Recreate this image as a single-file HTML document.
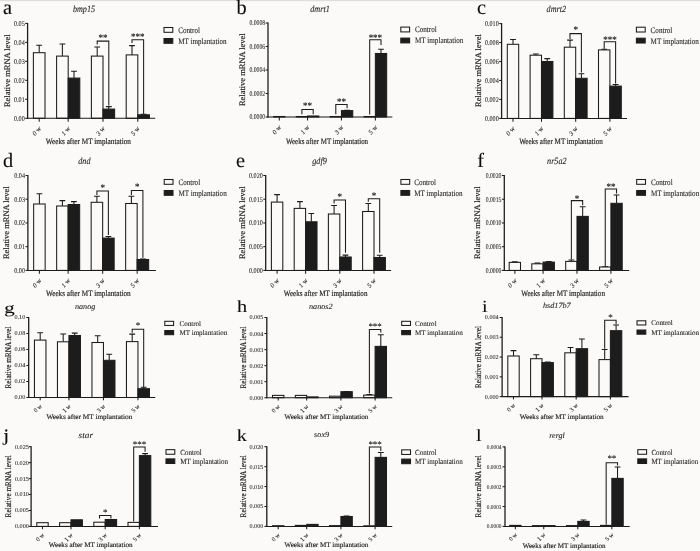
<!DOCTYPE html>
<html lang="en">
<head>
<meta charset="utf-8">
<title>Relative mRNA levels after MT implantation</title>
<style>
html,body{margin:0;padding:0;background:#fbfaf9;}
body{width:700px;height:551px;overflow:hidden;position:relative;}
svg{display:block;position:absolute;left:0;top:0;font-family:"Liberation Serif","Times New Roman",serif;}
svg text{fill:#1d1d1d;text-rendering:geometricPrecision;}
.tk{fill:#222;stroke:#222;stroke-width:0.08px;}
.xt{fill:#2a2a2a;stroke:#2a2a2a;stroke-width:0.12px;}
.lg,.ti{stroke:#1d1d1d;stroke-width:0.1px;}
.le{fill:#0c0c0c;stroke:#0c0c0c;stroke-width:0.12px;}
.st{fill:#222;stroke:#222;stroke-width:0.12px;}
.lb{stroke:#1d1d1d;stroke-width:0.18px;}
</style>
</head>
<body>
<svg width="700" height="551" viewBox="0 0 700 551">
<defs><filter id="soft" x="0" y="0" width="100%" height="100%" filterUnits="userSpaceOnUse"><feGaussianBlur stdDeviation="0.3"/></filter></defs>
<rect x="0" y="0" width="700" height="551" fill="#fbfaf9"/>
<rect x="0" y="0" width="700" height="1.2" fill="#dedede"/>
<g filter="url(#soft)">
<g id="panel-a">
<path d="M39.2 52.7V45.2M36.3 45.2H42.1" stroke="#1c1c1c" stroke-width="1.05" fill="none"/>
<rect x="33.4" y="52.7" width="11.6" height="65.6" fill="#fbfaf9" stroke="#1c1c1c" stroke-width="1.05"/>
<path d="M62.4 56.1V43.9M59.5 43.9H65.3" stroke="#1c1c1c" stroke-width="1.05" fill="none"/>
<rect x="56.6" y="56.1" width="11.6" height="62.2" fill="#fbfaf9" stroke="#1c1c1c" stroke-width="1.05"/>
<path d="M74 78.1V71.2M71.1 71.2H76.9" stroke="#1c1c1c" stroke-width="1.05" fill="none"/>
<rect x="68.2" y="78.1" width="11.6" height="40.2" fill="#1e1e1e" stroke="#1c1c1c" stroke-width="1.05"/>
<path d="M97.2 56.1V47M94.3 47H100.1" stroke="#1c1c1c" stroke-width="1.05" fill="none"/>
<rect x="91.4" y="56.1" width="11.6" height="62.2" fill="#fbfaf9" stroke="#1c1c1c" stroke-width="1.05"/>
<path d="M108.8 109.1V106.6M105.9 106.6H111.7" stroke="#1c1c1c" stroke-width="1.05" fill="none"/>
<rect x="103" y="109.1" width="11.6" height="9.2" fill="#1e1e1e" stroke="#1c1c1c" stroke-width="1.05"/>
<path d="M132 54.9V45.6M129.1 45.6H134.9" stroke="#1c1c1c" stroke-width="1.05" fill="none"/>
<rect x="126.2" y="54.9" width="11.6" height="63.4" fill="#fbfaf9" stroke="#1c1c1c" stroke-width="1.05"/>
<path d="M143.6 114.8V114.2M140.7 114.2H146.5" stroke="#1c1c1c" stroke-width="1.05" fill="none"/>
<rect x="137.8" y="114.8" width="11.6" height="3.5" fill="#1e1e1e" stroke="#1c1c1c" stroke-width="1.05"/>
<path d="M27.6 22.9V118.8" stroke="#1c1c1c" stroke-width="1.3" fill="none"/>
<path d="M27 118.3H155.2" stroke="#1c1c1c" stroke-width="1.05" fill="none"/>
<path d="M25.2 23.4H27.6" stroke="#1c1c1c" stroke-width="1.05"/>
<text transform="translate(24.7 25.75) scale(0.84 1)" font-size="7.3" text-anchor="end" class="tk">0.05</text>
<path d="M25.2 42.38H27.6" stroke="#1c1c1c" stroke-width="1.05"/>
<text transform="translate(24.7 44.73) scale(0.84 1)" font-size="7.3" text-anchor="end" class="tk">0.04</text>
<path d="M25.2 61.36H27.6" stroke="#1c1c1c" stroke-width="1.05"/>
<text transform="translate(24.7 63.71) scale(0.84 1)" font-size="7.3" text-anchor="end" class="tk">0.03</text>
<path d="M25.2 80.34H27.6" stroke="#1c1c1c" stroke-width="1.05"/>
<text transform="translate(24.7 82.69) scale(0.84 1)" font-size="7.3" text-anchor="end" class="tk">0.02</text>
<path d="M25.2 99.32H27.6" stroke="#1c1c1c" stroke-width="1.05"/>
<text transform="translate(24.7 101.67) scale(0.84 1)" font-size="7.3" text-anchor="end" class="tk">0.01</text>
<path d="M25.2 118.3H27.6" stroke="#1c1c1c" stroke-width="1.05"/>
<text transform="translate(24.7 120.65) scale(0.84 1)" font-size="7.3" text-anchor="end" class="tk">0.00</text>
<path d="M39.2 118.3V121.7" stroke="#1c1c1c" stroke-width="1.05"/>
<text transform="translate(41.4 128.8) scale(0.87 1) rotate(-45)" font-size="7.1" text-anchor="end" class="xt">0 w</text>
<path d="M68.2 118.3V121.7" stroke="#1c1c1c" stroke-width="1.05"/>
<text transform="translate(70.4 128.8) scale(0.87 1) rotate(-45)" font-size="7.1" text-anchor="end" class="xt">1 w</text>
<path d="M103 118.3V121.7" stroke="#1c1c1c" stroke-width="1.05"/>
<text transform="translate(105.2 128.8) scale(0.87 1) rotate(-45)" font-size="7.1" text-anchor="end" class="xt">3 w</text>
<path d="M137.8 118.3V121.7" stroke="#1c1c1c" stroke-width="1.05"/>
<text transform="translate(140 128.8) scale(0.87 1) rotate(-45)" font-size="7.1" text-anchor="end" class="xt">5 w</text>
<path d="M97.2 44.5V41.1H108.8V105.5" stroke="#1c1c1c" stroke-width="1.05" fill="none"/>
<text transform="translate(103 41.1) scale(0.87 1)" font-size="10.3" text-anchor="middle" class="st">**</text>
<path d="M132 43V39.7H143.6V113.9" stroke="#1c1c1c" stroke-width="1.05" fill="none"/>
<text transform="translate(137.8 39.7) scale(0.87 1)" font-size="10.3" text-anchor="middle" class="st">***</text>
<text transform="translate(9.7 70.7) rotate(-90)" font-size="8.46" text-anchor="middle" class="lb">Relative mRNA level</text>
<text transform="translate(88.3 143.8) scale(0.865 1)" font-size="8.4" text-anchor="middle" class="lb">Weeks after MT implantation</text>
<text transform="translate(84 11.6) scale(0.87 1)" font-size="9.4" text-anchor="middle" class="ti" font-style="italic">bmp15</text>
<text transform="translate(3 14.2)" font-size="20.3" class="le">a</text>
<rect x="164" y="27.5" width="8.8" height="4.8" fill="#fbfaf9" stroke="#1c1c1c" stroke-width="1.05"/>
<rect x="164" y="38.5" width="8.8" height="4.8" fill="#1e1e1e" stroke="#1c1c1c" stroke-width="1.05"/>
<text transform="translate(178.2 32.8) scale(0.85 1)" font-size="8.4" class="lg">Control</text>
<text transform="translate(178.2 43.8) scale(0.85 1)" font-size="8.4" class="lg">MT implantation</text>
</g>
<g id="panel-b">
<rect x="273.65" y="116.5" width="11.3" height="0.5" fill="#fbfaf9" stroke="#1c1c1c" stroke-width="1.05"/>
<rect x="296.25" y="116.5" width="11.3" height="0.5" fill="#fbfaf9" stroke="#1c1c1c" stroke-width="1.05"/>
<rect x="307.55" y="116" width="11.3" height="1" fill="#1e1e1e" stroke="#1c1c1c" stroke-width="1.05"/>
<rect x="330.15" y="116.5" width="11.3" height="0.5" fill="#fbfaf9" stroke="#1c1c1c" stroke-width="1.05"/>
<path d="M347.1 110.6V110.2M344.2 110.2H350" stroke="#1c1c1c" stroke-width="1.05" fill="none"/>
<rect x="341.45" y="110.6" width="11.3" height="6.4" fill="#1e1e1e" stroke="#1c1c1c" stroke-width="1.05"/>
<rect x="364.05" y="116.5" width="11.3" height="0.5" fill="#fbfaf9" stroke="#1c1c1c" stroke-width="1.05"/>
<path d="M381 53.5V49.2M378.1 49.2H383.9" stroke="#1c1c1c" stroke-width="1.05" fill="none"/>
<rect x="375.35" y="53.5" width="11.3" height="63.5" fill="#1e1e1e" stroke="#1c1c1c" stroke-width="1.05"/>
<path d="M268 22.5V117.5" stroke="#1c1c1c" stroke-width="1.3" fill="none"/>
<path d="M267.4 117H392.3" stroke="#1c1c1c" stroke-width="1.05" fill="none"/>
<path d="M265.6 23H268" stroke="#1c1c1c" stroke-width="1.05"/>
<text transform="translate(265.1 25.35) scale(0.78 1)" font-size="7.3" text-anchor="end" class="tk">0.0008</text>
<path d="M265.6 46.5H268" stroke="#1c1c1c" stroke-width="1.05"/>
<text transform="translate(265.1 48.85) scale(0.78 1)" font-size="7.3" text-anchor="end" class="tk">0.0006</text>
<path d="M265.6 70H268" stroke="#1c1c1c" stroke-width="1.05"/>
<text transform="translate(265.1 72.35) scale(0.78 1)" font-size="7.3" text-anchor="end" class="tk">0.0004</text>
<path d="M265.6 93.5H268" stroke="#1c1c1c" stroke-width="1.05"/>
<text transform="translate(265.1 95.85) scale(0.78 1)" font-size="7.3" text-anchor="end" class="tk">0.0002</text>
<path d="M265.6 117H268" stroke="#1c1c1c" stroke-width="1.05"/>
<text transform="translate(265.1 119.35) scale(0.78 1)" font-size="7.3" text-anchor="end" class="tk">0.0000</text>
<path d="M279.3 117V120.4" stroke="#1c1c1c" stroke-width="1.05"/>
<text transform="translate(281.5 127.5) scale(0.87 1) rotate(-45)" font-size="7.1" text-anchor="end" class="xt">0 w</text>
<path d="M307.55 117V120.4" stroke="#1c1c1c" stroke-width="1.05"/>
<text transform="translate(309.75 127.5) scale(0.87 1) rotate(-45)" font-size="7.1" text-anchor="end" class="xt">1 w</text>
<path d="M341.45 117V120.4" stroke="#1c1c1c" stroke-width="1.05"/>
<text transform="translate(343.65 127.5) scale(0.87 1) rotate(-45)" font-size="7.1" text-anchor="end" class="xt">3 w</text>
<path d="M375.35 117V120.4" stroke="#1c1c1c" stroke-width="1.05"/>
<text transform="translate(377.55 127.5) scale(0.87 1) rotate(-45)" font-size="7.1" text-anchor="end" class="xt">5 w</text>
<path d="M301.9 114.3V109.5H313.2V114.3" stroke="#1c1c1c" stroke-width="1.05" fill="none"/>
<text transform="translate(307.55 109.1) scale(0.87 1)" font-size="10.3" text-anchor="middle" class="st">**</text>
<path d="M335.8 114.3V104.5H347.1V108.3" stroke="#1c1c1c" stroke-width="1.05" fill="none"/>
<text transform="translate(341.45 104.8) scale(0.87 1)" font-size="10.3" text-anchor="middle" class="st">**</text>
<path d="M369.7 114.5V39.8H381V44.9" stroke="#1c1c1c" stroke-width="1.05" fill="none"/>
<text transform="translate(375.35 41.3) scale(0.87 1)" font-size="10.3" text-anchor="middle" class="st">***</text>
<text transform="translate(245 69.7) rotate(-90)" font-size="8.46" text-anchor="middle" class="lb">Relative mRNA level</text>
<text transform="translate(327 143.5) scale(0.835 1)" font-size="8.4" text-anchor="middle" class="lb">Weeks after MT implantation</text>
<text transform="translate(320 11.6) scale(0.87 1)" font-size="9.4" text-anchor="middle" class="ti" font-style="italic">dmrt1</text>
<text transform="translate(236.5 14.2)" font-size="20.3" class="le">b</text>
<rect x="400.8" y="27.1" width="8.8" height="4.8" fill="#fbfaf9" stroke="#1c1c1c" stroke-width="1.05"/>
<rect x="400.8" y="38.1" width="8.8" height="4.8" fill="#1e1e1e" stroke="#1c1c1c" stroke-width="1.05"/>
<text transform="translate(415 32.4) scale(0.85 1)" font-size="8.4" class="lg">Control</text>
<text transform="translate(415 43.4) scale(0.85 1)" font-size="8.4" class="lg">MT implantation</text>
</g>
<g id="panel-c">
<path d="M513 44.3V39.4M510.1 39.4H515.9" stroke="#1c1c1c" stroke-width="1.05" fill="none"/>
<rect x="507.3" y="44.3" width="11.4" height="74.1" fill="#fbfaf9" stroke="#1c1c1c" stroke-width="1.05"/>
<path d="M535.8 55.2V54M532.9 54H538.7" stroke="#1c1c1c" stroke-width="1.05" fill="none"/>
<rect x="530.1" y="55.2" width="11.4" height="63.2" fill="#fbfaf9" stroke="#1c1c1c" stroke-width="1.05"/>
<path d="M547.2 61.5V58.6M544.3 58.6H550.1" stroke="#1c1c1c" stroke-width="1.05" fill="none"/>
<rect x="541.5" y="61.5" width="11.4" height="56.9" fill="#1e1e1e" stroke="#1c1c1c" stroke-width="1.05"/>
<path d="M570 47.2V40.1M567.1 40.1H572.9" stroke="#1c1c1c" stroke-width="1.05" fill="none"/>
<rect x="564.3" y="47.2" width="11.4" height="71.2" fill="#fbfaf9" stroke="#1c1c1c" stroke-width="1.05"/>
<path d="M581.4 78.3V73.7M578.5 73.7H584.3" stroke="#1c1c1c" stroke-width="1.05" fill="none"/>
<rect x="575.7" y="78.3" width="11.4" height="40.1" fill="#1e1e1e" stroke="#1c1c1c" stroke-width="1.05"/>
<path d="M604.2 49.9V49.2M601.3 49.2H607.1" stroke="#1c1c1c" stroke-width="1.05" fill="none"/>
<rect x="598.5" y="49.9" width="11.4" height="68.5" fill="#fbfaf9" stroke="#1c1c1c" stroke-width="1.05"/>
<path d="M615.6 86.1V84.4M612.7 84.4H618.5" stroke="#1c1c1c" stroke-width="1.05" fill="none"/>
<rect x="609.9" y="86.1" width="11.4" height="32.3" fill="#1e1e1e" stroke="#1c1c1c" stroke-width="1.05"/>
<path d="M501.6 23.1V118.9" stroke="#1c1c1c" stroke-width="1.3" fill="none"/>
<path d="M501 118.4H627" stroke="#1c1c1c" stroke-width="1.05" fill="none"/>
<path d="M499.2 23.6H501.6" stroke="#1c1c1c" stroke-width="1.05"/>
<text transform="translate(498.7 25.95) scale(0.84 1)" font-size="7.3" text-anchor="end" class="tk">0.010</text>
<path d="M499.2 42.56H501.6" stroke="#1c1c1c" stroke-width="1.05"/>
<text transform="translate(498.7 44.91) scale(0.84 1)" font-size="7.3" text-anchor="end" class="tk">0.008</text>
<path d="M499.2 61.52H501.6" stroke="#1c1c1c" stroke-width="1.05"/>
<text transform="translate(498.7 63.87) scale(0.84 1)" font-size="7.3" text-anchor="end" class="tk">0.006</text>
<path d="M499.2 80.48H501.6" stroke="#1c1c1c" stroke-width="1.05"/>
<text transform="translate(498.7 82.83) scale(0.84 1)" font-size="7.3" text-anchor="end" class="tk">0.004</text>
<path d="M499.2 99.44H501.6" stroke="#1c1c1c" stroke-width="1.05"/>
<text transform="translate(498.7 101.79) scale(0.84 1)" font-size="7.3" text-anchor="end" class="tk">0.002</text>
<path d="M499.2 118.4H501.6" stroke="#1c1c1c" stroke-width="1.05"/>
<text transform="translate(498.7 120.75) scale(0.84 1)" font-size="7.3" text-anchor="end" class="tk">0.000</text>
<path d="M513 118.4V121.8" stroke="#1c1c1c" stroke-width="1.05"/>
<text transform="translate(515.2 128.9) scale(0.87 1) rotate(-45)" font-size="7.1" text-anchor="end" class="xt">0 w</text>
<path d="M541.5 118.4V121.8" stroke="#1c1c1c" stroke-width="1.05"/>
<text transform="translate(543.7 128.9) scale(0.87 1) rotate(-45)" font-size="7.1" text-anchor="end" class="xt">1 w</text>
<path d="M575.7 118.4V121.8" stroke="#1c1c1c" stroke-width="1.05"/>
<text transform="translate(577.9 128.9) scale(0.87 1) rotate(-45)" font-size="7.1" text-anchor="end" class="xt">3 w</text>
<path d="M609.9 118.4V121.8" stroke="#1c1c1c" stroke-width="1.05"/>
<text transform="translate(612.1 128.9) scale(0.87 1) rotate(-45)" font-size="7.1" text-anchor="end" class="xt">5 w</text>
<path d="M570 38.9V33.6H581.4V72.5" stroke="#1c1c1c" stroke-width="1.05" fill="none"/>
<text transform="translate(575.7 33.1) scale(0.87 1)" font-size="10.3" text-anchor="middle" class="st">*</text>
<path d="M604.2 48.7V41.8H615.6V83.4" stroke="#1c1c1c" stroke-width="1.05" fill="none"/>
<text transform="translate(609.9 42.5) scale(0.87 1)" font-size="10.3" text-anchor="middle" class="st">***</text>
<text transform="translate(481 70.5) rotate(-90)" font-size="8.46" text-anchor="middle" class="lb">Relative mRNA level</text>
<text transform="translate(561 143.5) scale(0.850 1)" font-size="8.4" text-anchor="middle" class="lb">Weeks after MT implantation</text>
<text transform="translate(556.3 11.8) scale(0.87 1)" font-size="9.4" text-anchor="middle" class="ti" font-style="italic">dmrt2</text>
<text transform="translate(477 14.1)" font-size="20.3" class="le">c</text>
<rect x="636.4" y="27.2" width="8.8" height="4.8" fill="#fbfaf9" stroke="#1c1c1c" stroke-width="1.05"/>
<rect x="636.4" y="38.2" width="8.8" height="4.8" fill="#1e1e1e" stroke="#1c1c1c" stroke-width="1.05"/>
<text transform="translate(650.6 32.5) scale(0.85 1)" font-size="8.4" class="lg">Control</text>
<text transform="translate(650.6 43.5) scale(0.85 1)" font-size="8.4" class="lg">MT implantation</text>
</g>
<g id="panel-d">
<path d="M39.4 204V193.8M36.5 193.8H42.3" stroke="#1c1c1c" stroke-width="1.05" fill="none"/>
<rect x="33.65" y="204" width="11.5" height="66.4" fill="#fbfaf9" stroke="#1c1c1c" stroke-width="1.05"/>
<path d="M62.4 206V200.6M59.5 200.6H65.3" stroke="#1c1c1c" stroke-width="1.05" fill="none"/>
<rect x="56.65" y="206" width="11.5" height="64.4" fill="#fbfaf9" stroke="#1c1c1c" stroke-width="1.05"/>
<path d="M73.9 204.5V201.6M71 201.6H76.8" stroke="#1c1c1c" stroke-width="1.05" fill="none"/>
<rect x="68.15" y="204.5" width="11.5" height="65.9" fill="#1e1e1e" stroke="#1c1c1c" stroke-width="1.05"/>
<path d="M96.9 202.3V196.2M94 196.2H99.8" stroke="#1c1c1c" stroke-width="1.05" fill="none"/>
<rect x="91.15" y="202.3" width="11.5" height="68.1" fill="#fbfaf9" stroke="#1c1c1c" stroke-width="1.05"/>
<path d="M108.4 238.1V236.4M105.5 236.4H111.3" stroke="#1c1c1c" stroke-width="1.05" fill="none"/>
<rect x="102.65" y="238.1" width="11.5" height="32.3" fill="#1e1e1e" stroke="#1c1c1c" stroke-width="1.05"/>
<path d="M131.4 203.5V196.2M128.5 196.2H134.3" stroke="#1c1c1c" stroke-width="1.05" fill="none"/>
<rect x="125.65" y="203.5" width="11.5" height="66.9" fill="#fbfaf9" stroke="#1c1c1c" stroke-width="1.05"/>
<path d="M142.9 259.5V259M140 259H145.8" stroke="#1c1c1c" stroke-width="1.05" fill="none"/>
<rect x="137.15" y="259.5" width="11.5" height="10.9" fill="#1e1e1e" stroke="#1c1c1c" stroke-width="1.05"/>
<path d="M27.9 175V270.9" stroke="#1c1c1c" stroke-width="1.3" fill="none"/>
<path d="M27.3 270.4H155.9" stroke="#1c1c1c" stroke-width="1.05" fill="none"/>
<path d="M25.5 175.5H27.9" stroke="#1c1c1c" stroke-width="1.05"/>
<text transform="translate(25 177.85) scale(0.84 1)" font-size="7.3" text-anchor="end" class="tk">0.04</text>
<path d="M25.5 199.22H27.9" stroke="#1c1c1c" stroke-width="1.05"/>
<text transform="translate(25 201.57) scale(0.84 1)" font-size="7.3" text-anchor="end" class="tk">0.03</text>
<path d="M25.5 222.95H27.9" stroke="#1c1c1c" stroke-width="1.05"/>
<text transform="translate(25 225.3) scale(0.84 1)" font-size="7.3" text-anchor="end" class="tk">0.02</text>
<path d="M25.5 246.67H27.9" stroke="#1c1c1c" stroke-width="1.05"/>
<text transform="translate(25 249.02) scale(0.84 1)" font-size="7.3" text-anchor="end" class="tk">0.01</text>
<path d="M25.5 270.4H27.9" stroke="#1c1c1c" stroke-width="1.05"/>
<text transform="translate(25 272.75) scale(0.84 1)" font-size="7.3" text-anchor="end" class="tk">0.00</text>
<path d="M39.4 270.4V273.8" stroke="#1c1c1c" stroke-width="1.05"/>
<text transform="translate(41.6 280.9) scale(0.87 1) rotate(-45)" font-size="7.1" text-anchor="end" class="xt">0 w</text>
<path d="M68.15 270.4V273.8" stroke="#1c1c1c" stroke-width="1.05"/>
<text transform="translate(70.35 280.9) scale(0.87 1) rotate(-45)" font-size="7.1" text-anchor="end" class="xt">1 w</text>
<path d="M102.65 270.4V273.8" stroke="#1c1c1c" stroke-width="1.05"/>
<text transform="translate(104.85 280.9) scale(0.87 1) rotate(-45)" font-size="7.1" text-anchor="end" class="xt">3 w</text>
<path d="M137.15 270.4V273.8" stroke="#1c1c1c" stroke-width="1.05"/>
<text transform="translate(139.35 280.9) scale(0.87 1) rotate(-45)" font-size="7.1" text-anchor="end" class="xt">5 w</text>
<path d="M96.9 195V190.9H108.4V235.1" stroke="#1c1c1c" stroke-width="1.05" fill="none"/>
<text transform="translate(102.65 190.7) scale(0.87 1)" font-size="10.3" text-anchor="middle" class="st">*</text>
<path d="M131.4 195V190.4H142.9V257.8" stroke="#1c1c1c" stroke-width="1.05" fill="none"/>
<text transform="translate(137.15 190.2) scale(0.87 1)" font-size="10.3" text-anchor="middle" class="st">*</text>
<text transform="translate(8.6 222.7) rotate(-90)" font-size="8.46" text-anchor="middle" class="lb">Relative mRNA level</text>
<text transform="translate(88.3 296) scale(0.860 1)" font-size="8.4" text-anchor="middle" class="lb">Weeks after MT implantation</text>
<text transform="translate(84.4 163.9) scale(0.87 1)" font-size="9.4" text-anchor="middle" class="ti" font-style="italic">dnd</text>
<text transform="translate(3 166.8)" font-size="20.3" class="le">d</text>
<rect x="164.2" y="179.5" width="8.8" height="4.8" fill="#fbfaf9" stroke="#1c1c1c" stroke-width="1.05"/>
<rect x="164.2" y="190.5" width="8.8" height="4.8" fill="#1e1e1e" stroke="#1c1c1c" stroke-width="1.05"/>
<text transform="translate(178.4 184.8) scale(0.85 1)" font-size="8.4" class="lg">Control</text>
<text transform="translate(178.4 195.8) scale(0.85 1)" font-size="8.4" class="lg">MT implantation</text>
</g>
<g id="panel-e">
<path d="M277.1 202.1V194.6M274.2 194.6H280" stroke="#1c1c1c" stroke-width="1.05" fill="none"/>
<rect x="271.4" y="202.1" width="11.4" height="68.3" fill="#fbfaf9" stroke="#1c1c1c" stroke-width="1.05"/>
<path d="M299.9 208.4V201.6M297 201.6H302.8" stroke="#1c1c1c" stroke-width="1.05" fill="none"/>
<rect x="294.2" y="208.4" width="11.4" height="62" fill="#fbfaf9" stroke="#1c1c1c" stroke-width="1.05"/>
<path d="M311.3 221.8V213.5M308.4 213.5H314.2" stroke="#1c1c1c" stroke-width="1.05" fill="none"/>
<rect x="305.6" y="221.8" width="11.4" height="48.6" fill="#1e1e1e" stroke="#1c1c1c" stroke-width="1.05"/>
<path d="M334.1 214V205.5M331.2 205.5H337" stroke="#1c1c1c" stroke-width="1.05" fill="none"/>
<rect x="328.4" y="214" width="11.4" height="56.4" fill="#fbfaf9" stroke="#1c1c1c" stroke-width="1.05"/>
<path d="M345.5 257V255.1M342.6 255.1H348.4" stroke="#1c1c1c" stroke-width="1.05" fill="none"/>
<rect x="339.8" y="257" width="11.4" height="13.4" fill="#1e1e1e" stroke="#1c1c1c" stroke-width="1.05"/>
<path d="M368.3 211.5V203.5M365.4 203.5H371.2" stroke="#1c1c1c" stroke-width="1.05" fill="none"/>
<rect x="362.6" y="211.5" width="11.4" height="58.9" fill="#fbfaf9" stroke="#1c1c1c" stroke-width="1.05"/>
<path d="M379.7 257.5V255.3M376.8 255.3H382.6" stroke="#1c1c1c" stroke-width="1.05" fill="none"/>
<rect x="374" y="257.5" width="11.4" height="12.9" fill="#1e1e1e" stroke="#1c1c1c" stroke-width="1.05"/>
<path d="M265.7 175V270.9" stroke="#1c1c1c" stroke-width="1.3" fill="none"/>
<path d="M265.1 270.4H391.1" stroke="#1c1c1c" stroke-width="1.05" fill="none"/>
<path d="M263.3 175.5H265.7" stroke="#1c1c1c" stroke-width="1.05"/>
<text transform="translate(262.8 177.85) scale(0.84 1)" font-size="7.3" text-anchor="end" class="tk">0.020</text>
<path d="M263.3 199.22H265.7" stroke="#1c1c1c" stroke-width="1.05"/>
<text transform="translate(262.8 201.57) scale(0.84 1)" font-size="7.3" text-anchor="end" class="tk">0.015</text>
<path d="M263.3 222.95H265.7" stroke="#1c1c1c" stroke-width="1.05"/>
<text transform="translate(262.8 225.3) scale(0.84 1)" font-size="7.3" text-anchor="end" class="tk">0.010</text>
<path d="M263.3 246.67H265.7" stroke="#1c1c1c" stroke-width="1.05"/>
<text transform="translate(262.8 249.02) scale(0.84 1)" font-size="7.3" text-anchor="end" class="tk">0.005</text>
<path d="M263.3 270.4H265.7" stroke="#1c1c1c" stroke-width="1.05"/>
<text transform="translate(262.8 272.75) scale(0.84 1)" font-size="7.3" text-anchor="end" class="tk">0.000</text>
<path d="M277.1 270.4V273.8" stroke="#1c1c1c" stroke-width="1.05"/>
<text transform="translate(279.3 280.9) scale(0.87 1) rotate(-45)" font-size="7.1" text-anchor="end" class="xt">0 w</text>
<path d="M305.6 270.4V273.8" stroke="#1c1c1c" stroke-width="1.05"/>
<text transform="translate(307.8 280.9) scale(0.87 1) rotate(-45)" font-size="7.1" text-anchor="end" class="xt">1 w</text>
<path d="M339.8 270.4V273.8" stroke="#1c1c1c" stroke-width="1.05"/>
<text transform="translate(342 280.9) scale(0.87 1) rotate(-45)" font-size="7.1" text-anchor="end" class="xt">3 w</text>
<path d="M374 270.4V273.8" stroke="#1c1c1c" stroke-width="1.05"/>
<text transform="translate(376.2 280.9) scale(0.87 1) rotate(-45)" font-size="7.1" text-anchor="end" class="xt">5 w</text>
<path d="M334.1 203.4V199.9H345.5V252.8" stroke="#1c1c1c" stroke-width="1.05" fill="none"/>
<text transform="translate(339.8 199.7) scale(0.87 1)" font-size="10.3" text-anchor="middle" class="st">*</text>
<path d="M368.3 201.8V198.7H379.7V252.8" stroke="#1c1c1c" stroke-width="1.05" fill="none"/>
<text transform="translate(374 198.5) scale(0.87 1)" font-size="10.3" text-anchor="middle" class="st">*</text>
<text transform="translate(244.7 222.7) rotate(-90)" font-size="8.46" text-anchor="middle" class="lb">Relative mRNA level</text>
<text transform="translate(325.6 296) scale(0.850 1)" font-size="8.4" text-anchor="middle" class="lb">Weeks after MT implantation</text>
<text transform="translate(319.5 163.9) scale(0.87 1)" font-size="9.4" text-anchor="middle" class="ti" font-style="italic">gdf9</text>
<text transform="translate(236 166.9)" font-size="20.3" class="le">e</text>
<rect x="400.9" y="179.5" width="8.8" height="4.8" fill="#fbfaf9" stroke="#1c1c1c" stroke-width="1.05"/>
<rect x="400.9" y="190.5" width="8.8" height="4.8" fill="#1e1e1e" stroke="#1c1c1c" stroke-width="1.05"/>
<text transform="translate(414.2 184.8) scale(0.85 1)" font-size="8.4" class="lg">Control</text>
<text transform="translate(414.2 195.8) scale(0.85 1)" font-size="8.4" class="lg">MT implantation</text>
</g>
<g id="panel-f">
<path d="M514.85 262.4V261.7M511.95 261.7H517.75" stroke="#1c1c1c" stroke-width="1.05" fill="none"/>
<rect x="509.2" y="262.4" width="11.3" height="8" fill="#fbfaf9" stroke="#1c1c1c" stroke-width="1.05"/>
<path d="M537.45 263.8V263.1M534.55 263.1H540.35" stroke="#1c1c1c" stroke-width="1.05" fill="none"/>
<rect x="531.8" y="263.8" width="11.3" height="6.6" fill="#fbfaf9" stroke="#1c1c1c" stroke-width="1.05"/>
<path d="M548.75 262.1V261.6M545.85 261.6H551.65" stroke="#1c1c1c" stroke-width="1.05" fill="none"/>
<rect x="543.1" y="262.1" width="11.3" height="8.3" fill="#1e1e1e" stroke="#1c1c1c" stroke-width="1.05"/>
<path d="M571.35 261.4V259.9M568.45 259.9H574.25" stroke="#1c1c1c" stroke-width="1.05" fill="none"/>
<rect x="565.7" y="261.4" width="11.3" height="9" fill="#fbfaf9" stroke="#1c1c1c" stroke-width="1.05"/>
<path d="M582.65 216.4V206.7M579.75 206.7H585.55" stroke="#1c1c1c" stroke-width="1.05" fill="none"/>
<rect x="577" y="216.4" width="11.3" height="54" fill="#1e1e1e" stroke="#1c1c1c" stroke-width="1.05"/>
<path d="M605.25 267V266.7M602.35 266.7H608.15" stroke="#1c1c1c" stroke-width="1.05" fill="none"/>
<rect x="599.6" y="267" width="11.3" height="3.4" fill="#fbfaf9" stroke="#1c1c1c" stroke-width="1.05"/>
<path d="M616.55 203.3V195M613.65 195H619.45" stroke="#1c1c1c" stroke-width="1.05" fill="none"/>
<rect x="610.9" y="203.3" width="11.3" height="67.1" fill="#1e1e1e" stroke="#1c1c1c" stroke-width="1.05"/>
<path d="M504.3 175V270.9" stroke="#1c1c1c" stroke-width="1.3" fill="none"/>
<path d="M503.7 270.4H629.1" stroke="#1c1c1c" stroke-width="1.05" fill="none"/>
<path d="M501.9 175.5H504.3" stroke="#1c1c1c" stroke-width="1.05"/>
<text transform="translate(501.4 177.85) scale(0.78 1)" font-size="7.3" text-anchor="end" class="tk">0.0020</text>
<path d="M501.9 199.22H504.3" stroke="#1c1c1c" stroke-width="1.05"/>
<text transform="translate(501.4 201.57) scale(0.78 1)" font-size="7.3" text-anchor="end" class="tk">0.0015</text>
<path d="M501.9 222.95H504.3" stroke="#1c1c1c" stroke-width="1.05"/>
<text transform="translate(501.4 225.3) scale(0.78 1)" font-size="7.3" text-anchor="end" class="tk">0.0010</text>
<path d="M501.9 246.67H504.3" stroke="#1c1c1c" stroke-width="1.05"/>
<text transform="translate(501.4 249.02) scale(0.78 1)" font-size="7.3" text-anchor="end" class="tk">0.0005</text>
<path d="M501.9 270.4H504.3" stroke="#1c1c1c" stroke-width="1.05"/>
<text transform="translate(501.4 272.75) scale(0.78 1)" font-size="7.3" text-anchor="end" class="tk">0.0000</text>
<path d="M514.85 270.4V273.8" stroke="#1c1c1c" stroke-width="1.05"/>
<text transform="translate(517.05 280.9) scale(0.87 1) rotate(-45)" font-size="7.1" text-anchor="end" class="xt">0 w</text>
<path d="M543.1 270.4V273.8" stroke="#1c1c1c" stroke-width="1.05"/>
<text transform="translate(545.3 280.9) scale(0.87 1) rotate(-45)" font-size="7.1" text-anchor="end" class="xt">1 w</text>
<path d="M577 270.4V273.8" stroke="#1c1c1c" stroke-width="1.05"/>
<text transform="translate(579.2 280.9) scale(0.87 1) rotate(-45)" font-size="7.1" text-anchor="end" class="xt">3 w</text>
<path d="M610.9 270.4V273.8" stroke="#1c1c1c" stroke-width="1.05"/>
<text transform="translate(613.1 280.9) scale(0.87 1) rotate(-45)" font-size="7.1" text-anchor="end" class="xt">5 w</text>
<path d="M571.35 259.5V200.6H582.65V205.2" stroke="#1c1c1c" stroke-width="1.05" fill="none"/>
<text transform="translate(577 201.6) scale(0.87 1)" font-size="10.3" text-anchor="middle" class="st">*</text>
<path d="M605.25 266V188.9H616.55V193.4" stroke="#1c1c1c" stroke-width="1.05" fill="none"/>
<text transform="translate(610.9 189.9) scale(0.87 1)" font-size="10.3" text-anchor="middle" class="st">**</text>
<text transform="translate(480.1 222.7) rotate(-90)" font-size="8.46" text-anchor="middle" class="lb">Relative mRNA level</text>
<text transform="translate(563.1 296) scale(0.850 1)" font-size="8.4" text-anchor="middle" class="lb">Weeks after MT implantation</text>
<text transform="translate(556.8 163.9) scale(0.87 1)" font-size="9.4" text-anchor="middle" class="ti" font-style="italic">nr5a2</text>
<text transform="translate(477.3 166.5)" font-size="20.3" class="le">f</text>
<rect x="636.7" y="179.5" width="8.8" height="4.8" fill="#fbfaf9" stroke="#1c1c1c" stroke-width="1.05"/>
<rect x="636.7" y="190.5" width="8.8" height="4.8" fill="#1e1e1e" stroke="#1c1c1c" stroke-width="1.05"/>
<text transform="translate(650.9 184.8) scale(0.85 1)" font-size="8.4" class="lg">Control</text>
<text transform="translate(650.9 195.8) scale(0.85 1)" font-size="8.4" class="lg">MT implantation</text>
</g>
<g id="panel-g">
<path d="M40.2 340.1V332.8M37.3 332.8H43.1" stroke="#1c1c1c" stroke-width="1.05" fill="none"/>
<rect x="34.45" y="340.1" width="11.5" height="57.4" fill="#fbfaf9" stroke="#1c1c1c" stroke-width="1.05"/>
<path d="M63.2 341.8V334M60.3 334H66.1" stroke="#1c1c1c" stroke-width="1.05" fill="none"/>
<rect x="57.45" y="341.8" width="11.5" height="55.7" fill="#fbfaf9" stroke="#1c1c1c" stroke-width="1.05"/>
<path d="M74.7 335.5V333.1M71.8 333.1H77.6" stroke="#1c1c1c" stroke-width="1.05" fill="none"/>
<rect x="68.95" y="335.5" width="11.5" height="62" fill="#1e1e1e" stroke="#1c1c1c" stroke-width="1.05"/>
<path d="M97.7 342.5V335.7M94.8 335.7H100.6" stroke="#1c1c1c" stroke-width="1.05" fill="none"/>
<rect x="91.95" y="342.5" width="11.5" height="55" fill="#fbfaf9" stroke="#1c1c1c" stroke-width="1.05"/>
<path d="M109.2 360.3V354.2M106.3 354.2H112.1" stroke="#1c1c1c" stroke-width="1.05" fill="none"/>
<rect x="103.45" y="360.3" width="11.5" height="37.2" fill="#1e1e1e" stroke="#1c1c1c" stroke-width="1.05"/>
<path d="M132.2 341.6V334.1M129.3 334.1H135.1" stroke="#1c1c1c" stroke-width="1.05" fill="none"/>
<rect x="126.45" y="341.6" width="11.5" height="55.9" fill="#fbfaf9" stroke="#1c1c1c" stroke-width="1.05"/>
<path d="M143.7 388.7V387.2M140.8 387.2H146.6" stroke="#1c1c1c" stroke-width="1.05" fill="none"/>
<rect x="137.95" y="388.7" width="11.5" height="8.8" fill="#1e1e1e" stroke="#1c1c1c" stroke-width="1.05"/>
<path d="M28.7 317V398" stroke="#1c1c1c" stroke-width="1.3" fill="none"/>
<path d="M28.1 397.5H155.2" stroke="#1c1c1c" stroke-width="1.05" fill="none"/>
<path d="M26.3 317.5H28.7" stroke="#1c1c1c" stroke-width="1.05"/>
<text transform="translate(25.2 319.47) scale(0.84 0.84)" font-size="7.3" text-anchor="end" class="tk">0.10</text>
<path d="M26.3 333.5H28.7" stroke="#1c1c1c" stroke-width="1.05"/>
<text transform="translate(25.2 335.47) scale(0.84 0.84)" font-size="7.3" text-anchor="end" class="tk">0.08</text>
<path d="M26.3 349.5H28.7" stroke="#1c1c1c" stroke-width="1.05"/>
<text transform="translate(25.2 351.47) scale(0.84 0.84)" font-size="7.3" text-anchor="end" class="tk">0.06</text>
<path d="M26.3 365.5H28.7" stroke="#1c1c1c" stroke-width="1.05"/>
<text transform="translate(25.2 367.47) scale(0.84 0.84)" font-size="7.3" text-anchor="end" class="tk">0.04</text>
<path d="M26.3 381.5H28.7" stroke="#1c1c1c" stroke-width="1.05"/>
<text transform="translate(25.2 383.47) scale(0.84 0.84)" font-size="7.3" text-anchor="end" class="tk">0.02</text>
<path d="M26.3 397.5H28.7" stroke="#1c1c1c" stroke-width="1.05"/>
<text transform="translate(25.2 399.47) scale(0.84 0.84)" font-size="7.3" text-anchor="end" class="tk">0.00</text>
<path d="M40.2 397.5V400.36" stroke="#1c1c1c" stroke-width="1.05"/>
<text transform="translate(42.4 406.66) scale(0.87 0.84) rotate(-45)" font-size="7.1" text-anchor="end" class="xt">0 w</text>
<path d="M68.95 397.5V400.36" stroke="#1c1c1c" stroke-width="1.05"/>
<text transform="translate(71.15 406.66) scale(0.87 0.84) rotate(-45)" font-size="7.1" text-anchor="end" class="xt">1 w</text>
<path d="M103.45 397.5V400.36" stroke="#1c1c1c" stroke-width="1.05"/>
<text transform="translate(105.65 406.66) scale(0.87 0.84) rotate(-45)" font-size="7.1" text-anchor="end" class="xt">3 w</text>
<path d="M137.95 397.5V400.36" stroke="#1c1c1c" stroke-width="1.05"/>
<text transform="translate(140.15 406.66) scale(0.87 0.84) rotate(-45)" font-size="7.1" text-anchor="end" class="xt">5 w</text>
<path d="M132.2 332.7V329.3H143.7V387.1" stroke="#1c1c1c" stroke-width="1.05" fill="none"/>
<text transform="translate(137.95 328.46) scale(0.87 0.84)" font-size="10.3" text-anchor="middle" class="st">*</text>
<text transform="translate(11.1 357.5) scale(1 0.84) rotate(-90)" font-size="8.6" text-anchor="middle" class="lb">Relative mRNA level</text>
<text transform="translate(89.4 418.5) scale(0.871 0.84)" font-size="8.4" text-anchor="middle" class="lb">Weeks after MT implantation</text>
<text transform="translate(85.1 308.9) scale(0.87 0.84)" font-size="9.4" text-anchor="middle" class="ti" font-style="italic">nanog</text>
<text transform="translate(4.2 313) scale(1.03 0.76)" font-size="20.3" class="le">g</text>
<rect x="164.8" y="321.3" width="8.8" height="4.15" fill="#fbfaf9" stroke="#1c1c1c" stroke-width="1.05"/>
<rect x="164.8" y="330.54" width="8.8" height="4.15" fill="#1e1e1e" stroke="#1c1c1c" stroke-width="1.05"/>
<text transform="translate(179.5 325.95) scale(0.84 0.86)" font-size="8.4" class="lg">Control</text>
<text transform="translate(179.5 335.19) scale(0.84 0.86)" font-size="8.4" class="lg">MT implantation</text>
</g>
<g id="panel-h">
<rect x="272.5" y="395.4" width="11.4" height="2.3" fill="#fbfaf9" stroke="#1c1c1c" stroke-width="1.05"/>
<rect x="295.3" y="395.4" width="11.4" height="2.3" fill="#fbfaf9" stroke="#1c1c1c" stroke-width="1.05"/>
<rect x="306.7" y="396.9" width="11.4" height="0.8" fill="#1e1e1e" stroke="#1c1c1c" stroke-width="1.05"/>
<rect x="329.5" y="396.2" width="11.4" height="1.5" fill="#fbfaf9" stroke="#1c1c1c" stroke-width="1.05"/>
<path d="M346.6 391.7V391.4M343.7 391.4H349.5" stroke="#1c1c1c" stroke-width="1.05" fill="none"/>
<rect x="340.9" y="391.7" width="11.4" height="6" fill="#1e1e1e" stroke="#1c1c1c" stroke-width="1.05"/>
<path d="M369.4 395.1V394.6M366.5 394.6H372.3" stroke="#1c1c1c" stroke-width="1.05" fill="none"/>
<rect x="363.7" y="395.1" width="11.4" height="2.6" fill="#fbfaf9" stroke="#1c1c1c" stroke-width="1.05"/>
<path d="M380.8 346.4V334.8M377.9 334.8H383.7" stroke="#1c1c1c" stroke-width="1.05" fill="none"/>
<rect x="375.1" y="346.4" width="11.4" height="51.3" fill="#1e1e1e" stroke="#1c1c1c" stroke-width="1.05"/>
<path d="M266.8 317V398.2" stroke="#1c1c1c" stroke-width="1.3" fill="none"/>
<path d="M266.2 397.7H392.2" stroke="#1c1c1c" stroke-width="1.05" fill="none"/>
<path d="M264.4 317.5H266.8" stroke="#1c1c1c" stroke-width="1.05"/>
<text transform="translate(263.3 319.47) scale(0.84 0.84)" font-size="7.3" text-anchor="end" class="tk">0.005</text>
<path d="M264.4 333.54H266.8" stroke="#1c1c1c" stroke-width="1.05"/>
<text transform="translate(263.3 335.51) scale(0.84 0.84)" font-size="7.3" text-anchor="end" class="tk">0.004</text>
<path d="M264.4 349.58H266.8" stroke="#1c1c1c" stroke-width="1.05"/>
<text transform="translate(263.3 351.55) scale(0.84 0.84)" font-size="7.3" text-anchor="end" class="tk">0.003</text>
<path d="M264.4 365.62H266.8" stroke="#1c1c1c" stroke-width="1.05"/>
<text transform="translate(263.3 367.59) scale(0.84 0.84)" font-size="7.3" text-anchor="end" class="tk">0.002</text>
<path d="M264.4 381.66H266.8" stroke="#1c1c1c" stroke-width="1.05"/>
<text transform="translate(263.3 383.63) scale(0.84 0.84)" font-size="7.3" text-anchor="end" class="tk">0.001</text>
<path d="M264.4 397.7H266.8" stroke="#1c1c1c" stroke-width="1.05"/>
<text transform="translate(263.3 399.67) scale(0.84 0.84)" font-size="7.3" text-anchor="end" class="tk">0.000</text>
<path d="M278.2 397.7V400.56" stroke="#1c1c1c" stroke-width="1.05"/>
<text transform="translate(280.4 406.86) scale(0.87 0.84) rotate(-45)" font-size="7.1" text-anchor="end" class="xt">0 w</text>
<path d="M306.7 397.7V400.56" stroke="#1c1c1c" stroke-width="1.05"/>
<text transform="translate(308.9 406.86) scale(0.87 0.84) rotate(-45)" font-size="7.1" text-anchor="end" class="xt">1 w</text>
<path d="M340.9 397.7V400.56" stroke="#1c1c1c" stroke-width="1.05"/>
<text transform="translate(343.1 406.86) scale(0.87 0.84) rotate(-45)" font-size="7.1" text-anchor="end" class="xt">3 w</text>
<path d="M375.1 397.7V400.56" stroke="#1c1c1c" stroke-width="1.05"/>
<text transform="translate(377.3 406.86) scale(0.87 0.84) rotate(-45)" font-size="7.1" text-anchor="end" class="xt">5 w</text>
<path d="M369.4 393.5V329.4H380.8V332.5" stroke="#1c1c1c" stroke-width="1.05" fill="none"/>
<text transform="translate(375.1 329.23) scale(0.87 0.84)" font-size="10.3" text-anchor="middle" class="st">***</text>
<text transform="translate(245.6 357.5) scale(1 0.84) rotate(-90)" font-size="8.6" text-anchor="middle" class="lb">Relative mRNA level</text>
<text transform="translate(326.4 418.5) scale(0.850 0.84)" font-size="8.4" text-anchor="middle" class="lb">Weeks after MT implantation</text>
<text transform="translate(320.8 308.5) scale(0.87 0.84)" font-size="9.4" text-anchor="middle" class="ti" font-style="italic">nanos2</text>
<text transform="translate(237 312.3) scale(1 0.84)" font-size="20.3" class="le">h</text>
<rect x="401.7" y="321.3" width="8.8" height="4.15" fill="#fbfaf9" stroke="#1c1c1c" stroke-width="1.05"/>
<rect x="401.7" y="330.54" width="8.8" height="4.15" fill="#1e1e1e" stroke="#1c1c1c" stroke-width="1.05"/>
<text transform="translate(415.1 325.95) scale(0.84 0.86)" font-size="8.4" class="lg">Control</text>
<text transform="translate(415.1 335.19) scale(0.84 0.86)" font-size="8.4" class="lg">MT implantation</text>
</g>
<g id="panel-i">
<path d="M513.5 356V350.6M510.6 350.6H516.4" stroke="#1c1c1c" stroke-width="1.05" fill="none"/>
<rect x="507.8" y="356" width="11.4" height="40.6" fill="#fbfaf9" stroke="#1c1c1c" stroke-width="1.05"/>
<path d="M536.3 358.7V354.8M533.4 354.8H539.2" stroke="#1c1c1c" stroke-width="1.05" fill="none"/>
<rect x="530.6" y="358.7" width="11.4" height="37.9" fill="#fbfaf9" stroke="#1c1c1c" stroke-width="1.05"/>
<path d="M547.7 362.6V361.9M544.8 361.9H550.6" stroke="#1c1c1c" stroke-width="1.05" fill="none"/>
<rect x="542" y="362.6" width="11.4" height="34" fill="#1e1e1e" stroke="#1c1c1c" stroke-width="1.05"/>
<path d="M570.5 352.8V347.4M567.6 347.4H573.4" stroke="#1c1c1c" stroke-width="1.05" fill="none"/>
<rect x="564.8" y="352.8" width="11.4" height="43.8" fill="#fbfaf9" stroke="#1c1c1c" stroke-width="1.05"/>
<path d="M581.9 348.7V339M579 339H584.8" stroke="#1c1c1c" stroke-width="1.05" fill="none"/>
<rect x="576.2" y="348.7" width="11.4" height="47.9" fill="#1e1e1e" stroke="#1c1c1c" stroke-width="1.05"/>
<path d="M604.7 359.6V349.4M601.8 349.4H607.6" stroke="#1c1c1c" stroke-width="1.05" fill="none"/>
<rect x="599" y="359.6" width="11.4" height="37" fill="#fbfaf9" stroke="#1c1c1c" stroke-width="1.05"/>
<path d="M616.1 330.7V324.9M613.2 324.9H619" stroke="#1c1c1c" stroke-width="1.05" fill="none"/>
<rect x="610.4" y="330.7" width="11.4" height="65.9" fill="#1e1e1e" stroke="#1c1c1c" stroke-width="1.05"/>
<path d="M502.1 317V397.1" stroke="#1c1c1c" stroke-width="1.3" fill="none"/>
<path d="M501.5 396.6H628.5" stroke="#1c1c1c" stroke-width="1.05" fill="none"/>
<path d="M499.7 317.5H502.1" stroke="#1c1c1c" stroke-width="1.05"/>
<text transform="translate(498.6 319.47) scale(0.84 0.84)" font-size="7.3" text-anchor="end" class="tk">0.004</text>
<path d="M499.7 337.27H502.1" stroke="#1c1c1c" stroke-width="1.05"/>
<text transform="translate(498.6 339.25) scale(0.84 0.84)" font-size="7.3" text-anchor="end" class="tk">0.003</text>
<path d="M499.7 357.05H502.1" stroke="#1c1c1c" stroke-width="1.05"/>
<text transform="translate(498.6 359.02) scale(0.84 0.84)" font-size="7.3" text-anchor="end" class="tk">0.002</text>
<path d="M499.7 376.83H502.1" stroke="#1c1c1c" stroke-width="1.05"/>
<text transform="translate(498.6 378.8) scale(0.84 0.84)" font-size="7.3" text-anchor="end" class="tk">0.001</text>
<path d="M499.7 396.6H502.1" stroke="#1c1c1c" stroke-width="1.05"/>
<text transform="translate(498.6 398.57) scale(0.84 0.84)" font-size="7.3" text-anchor="end" class="tk">0.000</text>
<path d="M513.5 396.6V399.46" stroke="#1c1c1c" stroke-width="1.05"/>
<text transform="translate(515.7 405.76) scale(0.87 0.84) rotate(-45)" font-size="7.1" text-anchor="end" class="xt">0 w</text>
<path d="M542 396.6V399.46" stroke="#1c1c1c" stroke-width="1.05"/>
<text transform="translate(544.2 405.76) scale(0.87 0.84) rotate(-45)" font-size="7.1" text-anchor="end" class="xt">1 w</text>
<path d="M576.2 396.6V399.46" stroke="#1c1c1c" stroke-width="1.05"/>
<text transform="translate(578.4 405.76) scale(0.87 0.84) rotate(-45)" font-size="7.1" text-anchor="end" class="xt">3 w</text>
<path d="M610.4 396.6V399.46" stroke="#1c1c1c" stroke-width="1.05"/>
<text transform="translate(612.6 405.76) scale(0.87 0.84) rotate(-45)" font-size="7.1" text-anchor="end" class="xt">5 w</text>
<path d="M604.7 348.7V320.2H616.1V323.9" stroke="#1c1c1c" stroke-width="1.05" fill="none"/>
<text transform="translate(610.4 320.03) scale(0.87 0.84)" font-size="10.3" text-anchor="middle" class="st">*</text>
<text transform="translate(481.1 357) scale(1 0.84) rotate(-90)" font-size="8.6" text-anchor="middle" class="lb">Relative mRNA level</text>
<text transform="translate(561.7 419) scale(0.850 0.84)" font-size="8.4" text-anchor="middle" class="lb">Weeks after MT implantation</text>
<text transform="translate(556.8 307.6) scale(0.87 0.84)" font-size="9.4" text-anchor="middle" class="ti" font-style="italic">hsd17b7</text>
<text transform="translate(482 312) scale(1 0.84)" font-size="20.3" class="le">i</text>
<rect x="637" y="320.8" width="8.8" height="4.15" fill="#fbfaf9" stroke="#1c1c1c" stroke-width="1.05"/>
<rect x="637" y="330.04" width="8.8" height="4.15" fill="#1e1e1e" stroke="#1c1c1c" stroke-width="1.05"/>
<text transform="translate(651.2 325.45) scale(0.84 0.86)" font-size="8.4" class="lg">Control</text>
<text transform="translate(651.2 334.69) scale(0.84 0.86)" font-size="8.4" class="lg">MT implantation</text>
</g>
<g id="panel-j">
<rect x="36.8" y="522.7" width="11.4" height="3.7" fill="#fbfaf9" stroke="#1c1c1c" stroke-width="1.05"/>
<rect x="59.6" y="522.7" width="11.4" height="3.7" fill="#fbfaf9" stroke="#1c1c1c" stroke-width="1.05"/>
<rect x="71" y="519.8" width="11.4" height="6.6" fill="#1e1e1e" stroke="#1c1c1c" stroke-width="1.05"/>
<rect x="93.8" y="522.2" width="11.4" height="4.2" fill="#fbfaf9" stroke="#1c1c1c" stroke-width="1.05"/>
<rect x="105.2" y="519.5" width="11.4" height="6.9" fill="#1e1e1e" stroke="#1c1c1c" stroke-width="1.05"/>
<rect x="128" y="522.4" width="11.4" height="4" fill="#fbfaf9" stroke="#1c1c1c" stroke-width="1.05"/>
<path d="M145.1 455.6V453.6M142.2 453.6H148" stroke="#1c1c1c" stroke-width="1.05" fill="none"/>
<rect x="139.4" y="455.6" width="11.4" height="70.8" fill="#1e1e1e" stroke="#1c1c1c" stroke-width="1.05"/>
<path d="M31.1 446.2V526.9" stroke="#1c1c1c" stroke-width="1.3" fill="none"/>
<path d="M30.5 526.4H158" stroke="#1c1c1c" stroke-width="1.05" fill="none"/>
<path d="M28.7 446.7H31.1" stroke="#1c1c1c" stroke-width="1.05"/>
<text transform="translate(28.8 448.67) scale(0.84 0.84)" font-size="7.3" text-anchor="end" class="tk">0.025</text>
<path d="M28.7 462.64H31.1" stroke="#1c1c1c" stroke-width="1.05"/>
<text transform="translate(28.8 464.61) scale(0.84 0.84)" font-size="7.3" text-anchor="end" class="tk">0.020</text>
<path d="M28.7 478.58H31.1" stroke="#1c1c1c" stroke-width="1.05"/>
<text transform="translate(28.8 480.55) scale(0.84 0.84)" font-size="7.3" text-anchor="end" class="tk">0.015</text>
<path d="M28.7 494.52H31.1" stroke="#1c1c1c" stroke-width="1.05"/>
<text transform="translate(28.8 496.49) scale(0.84 0.84)" font-size="7.3" text-anchor="end" class="tk">0.010</text>
<path d="M28.7 510.46H31.1" stroke="#1c1c1c" stroke-width="1.05"/>
<text transform="translate(28.8 512.43) scale(0.84 0.84)" font-size="7.3" text-anchor="end" class="tk">0.005</text>
<path d="M28.7 526.4H31.1" stroke="#1c1c1c" stroke-width="1.05"/>
<text transform="translate(28.8 528.37) scale(0.84 0.84)" font-size="7.3" text-anchor="end" class="tk">0.000</text>
<path d="M42.5 526.4V529.26" stroke="#1c1c1c" stroke-width="1.05"/>
<text transform="translate(44.7 535.56) scale(0.87 0.84) rotate(-45)" font-size="7.1" text-anchor="end" class="xt">0 w</text>
<path d="M71 526.4V529.26" stroke="#1c1c1c" stroke-width="1.05"/>
<text transform="translate(73.2 535.56) scale(0.87 0.84) rotate(-45)" font-size="7.1" text-anchor="end" class="xt">1 w</text>
<path d="M105.2 526.4V529.26" stroke="#1c1c1c" stroke-width="1.05"/>
<text transform="translate(107.4 535.56) scale(0.87 0.84) rotate(-45)" font-size="7.1" text-anchor="end" class="xt">3 w</text>
<path d="M139.4 526.4V529.26" stroke="#1c1c1c" stroke-width="1.05"/>
<text transform="translate(141.6 535.56) scale(0.87 0.84) rotate(-45)" font-size="7.1" text-anchor="end" class="xt">5 w</text>
<path d="M99.5 518.6V515.5H110.9V518.6" stroke="#1c1c1c" stroke-width="1.05" fill="none"/>
<text transform="translate(105.2 515.33) scale(0.87 0.84)" font-size="10.3" text-anchor="middle" class="st">*</text>
<path d="M133.7 521.5V446.9H145.1V451.7" stroke="#1c1c1c" stroke-width="1.05" fill="none"/>
<text transform="translate(139.4 446.73) scale(0.87 0.84)" font-size="10.3" text-anchor="middle" class="st">***</text>
<text transform="translate(11.1 486.3) scale(1 0.84) rotate(-90)" font-size="8.6" text-anchor="middle" class="lb">Relative mRNA level</text>
<text transform="translate(90.7 547.2) scale(0.850 0.84)" font-size="8.4" text-anchor="middle" class="lb">Weeks after MT implantation</text>
<text transform="translate(85.8 437.7) scale(0.87 0.84)" font-size="10.6" text-anchor="middle" class="ti" font-style="italic">star</text>
<text transform="translate(3.3 441.4) scale(1.05 0.85)" font-size="20.3" class="le">j</text>
<rect x="166" y="449.65" width="8.8" height="4.6" fill="#fbfaf9" stroke="#1c1c1c" stroke-width="1.05"/>
<rect x="166" y="458.89" width="8.8" height="4.6" fill="#1e1e1e" stroke="#1c1c1c" stroke-width="1.05"/>
<text transform="translate(180.2 454.75) scale(0.84 0.93)" font-size="8.4" class="lg">Control</text>
<text transform="translate(180.2 463.99) scale(0.84 0.93)" font-size="8.4" class="lg">MT implantation</text>
</g>
<g id="panel-k">
<rect x="272.5" y="525.7" width="11.4" height="0.7" fill="#fbfaf9" stroke="#1c1c1c" stroke-width="1.05"/>
<rect x="295.3" y="525.4" width="11.4" height="1" fill="#fbfaf9" stroke="#1c1c1c" stroke-width="1.05"/>
<rect x="306.7" y="524.4" width="11.4" height="2" fill="#1e1e1e" stroke="#1c1c1c" stroke-width="1.05"/>
<rect x="329.5" y="525.6" width="11.4" height="0.8" fill="#fbfaf9" stroke="#1c1c1c" stroke-width="1.05"/>
<path d="M346.6 516.5V516.1M343.7 516.1H349.5" stroke="#1c1c1c" stroke-width="1.05" fill="none"/>
<rect x="340.9" y="516.5" width="11.4" height="9.9" fill="#1e1e1e" stroke="#1c1c1c" stroke-width="1.05"/>
<rect x="363.7" y="525.8" width="11.4" height="0.6" fill="#fbfaf9" stroke="#1c1c1c" stroke-width="1.05"/>
<path d="M380.8 457.4V452.5M377.9 452.5H383.7" stroke="#1c1c1c" stroke-width="1.05" fill="none"/>
<rect x="375.1" y="457.4" width="11.4" height="69" fill="#1e1e1e" stroke="#1c1c1c" stroke-width="1.05"/>
<path d="M266.8 446.2V526.9" stroke="#1c1c1c" stroke-width="1.3" fill="none"/>
<path d="M266.2 526.4H392.2" stroke="#1c1c1c" stroke-width="1.05" fill="none"/>
<path d="M264.4 446.7H266.8" stroke="#1c1c1c" stroke-width="1.05"/>
<text transform="translate(263.3 448.67) scale(0.84 0.84)" font-size="7.3" text-anchor="end" class="tk">0.020</text>
<path d="M264.4 466.62H266.8" stroke="#1c1c1c" stroke-width="1.05"/>
<text transform="translate(263.3 468.6) scale(0.84 0.84)" font-size="7.3" text-anchor="end" class="tk">0.015</text>
<path d="M264.4 486.55H266.8" stroke="#1c1c1c" stroke-width="1.05"/>
<text transform="translate(263.3 488.52) scale(0.84 0.84)" font-size="7.3" text-anchor="end" class="tk">0.010</text>
<path d="M264.4 506.47H266.8" stroke="#1c1c1c" stroke-width="1.05"/>
<text transform="translate(263.3 508.45) scale(0.84 0.84)" font-size="7.3" text-anchor="end" class="tk">0.005</text>
<path d="M264.4 526.4H266.8" stroke="#1c1c1c" stroke-width="1.05"/>
<text transform="translate(263.3 528.37) scale(0.84 0.84)" font-size="7.3" text-anchor="end" class="tk">0.000</text>
<path d="M278.2 526.4V529.26" stroke="#1c1c1c" stroke-width="1.05"/>
<text transform="translate(280.4 535.56) scale(0.87 0.84) rotate(-45)" font-size="7.1" text-anchor="end" class="xt">0 w</text>
<path d="M306.7 526.4V529.26" stroke="#1c1c1c" stroke-width="1.05"/>
<text transform="translate(308.9 535.56) scale(0.87 0.84) rotate(-45)" font-size="7.1" text-anchor="end" class="xt">1 w</text>
<path d="M340.9 526.4V529.26" stroke="#1c1c1c" stroke-width="1.05"/>
<text transform="translate(343.1 535.56) scale(0.87 0.84) rotate(-45)" font-size="7.1" text-anchor="end" class="xt">3 w</text>
<path d="M375.1 526.4V529.26" stroke="#1c1c1c" stroke-width="1.05"/>
<text transform="translate(377.3 535.56) scale(0.87 0.84) rotate(-45)" font-size="7.1" text-anchor="end" class="xt">5 w</text>
<path d="M369.4 525.2V446.9H380.8V451" stroke="#1c1c1c" stroke-width="1.05" fill="none"/>
<text transform="translate(375.1 446.73) scale(0.87 0.84)" font-size="10.3" text-anchor="middle" class="st">***</text>
<text transform="translate(245.6 486.3) scale(1 0.84) rotate(-90)" font-size="8.6" text-anchor="middle" class="lb">Relative mRNA level</text>
<text transform="translate(326.4 547.2) scale(0.850 0.84)" font-size="8.4" text-anchor="middle" class="lb">Weeks after MT implantation</text>
<text transform="translate(321.6 437.2) scale(0.87 0.84)" font-size="9.4" text-anchor="middle" class="ti" font-style="italic">sox9</text>
<text transform="translate(236.8 441) scale(1 0.84)" font-size="20.3" class="le">k</text>
<rect x="401.7" y="449.85" width="8.8" height="4.6" fill="#fbfaf9" stroke="#1c1c1c" stroke-width="1.05"/>
<rect x="401.7" y="459.09" width="8.8" height="4.6" fill="#1e1e1e" stroke="#1c1c1c" stroke-width="1.05"/>
<text transform="translate(415 454.95) scale(0.84 0.93)" font-size="8.4" class="lg">Control</text>
<text transform="translate(415 464.19) scale(0.84 0.93)" font-size="8.4" class="lg">MT implantation</text>
</g>
<g id="panel-l">
<rect x="509.7" y="525.4" width="11.35" height="1" fill="#fbfaf9" stroke="#1c1c1c" stroke-width="1.05"/>
<rect x="532.4" y="525.6" width="11.35" height="0.8" fill="#fbfaf9" stroke="#1c1c1c" stroke-width="1.05"/>
<rect x="543.75" y="525.6" width="11.35" height="0.8" fill="#1e1e1e" stroke="#1c1c1c" stroke-width="1.05"/>
<rect x="566.45" y="525.6" width="11.35" height="0.8" fill="#fbfaf9" stroke="#1c1c1c" stroke-width="1.05"/>
<path d="M583.47 521.4V519.9M580.57 519.9H586.37" stroke="#1c1c1c" stroke-width="1.05" fill="none"/>
<rect x="577.8" y="521.4" width="11.35" height="5" fill="#1e1e1e" stroke="#1c1c1c" stroke-width="1.05"/>
<rect x="600.5" y="525.4" width="11.35" height="1" fill="#fbfaf9" stroke="#1c1c1c" stroke-width="1.05"/>
<path d="M617.52 478.4V467M614.62 467H620.42" stroke="#1c1c1c" stroke-width="1.05" fill="none"/>
<rect x="611.85" y="478.4" width="11.35" height="48" fill="#1e1e1e" stroke="#1c1c1c" stroke-width="1.05"/>
<path d="M505 446.4V526.9" stroke="#1c1c1c" stroke-width="1.3" fill="none"/>
<path d="M504.4 526.4H629.7" stroke="#1c1c1c" stroke-width="1.05" fill="none"/>
<path d="M502.6 446.9H505" stroke="#1c1c1c" stroke-width="1.05"/>
<text transform="translate(501.5 448.87) scale(0.73 0.84)" font-size="7.3" text-anchor="end" class="tk">0.0004</text>
<path d="M502.6 466.77H505" stroke="#1c1c1c" stroke-width="1.05"/>
<text transform="translate(501.5 468.75) scale(0.73 0.84)" font-size="7.3" text-anchor="end" class="tk">0.0003</text>
<path d="M502.6 486.65H505" stroke="#1c1c1c" stroke-width="1.05"/>
<text transform="translate(501.5 488.62) scale(0.73 0.84)" font-size="7.3" text-anchor="end" class="tk">0.0002</text>
<path d="M502.6 506.52H505" stroke="#1c1c1c" stroke-width="1.05"/>
<text transform="translate(501.5 508.5) scale(0.73 0.84)" font-size="7.3" text-anchor="end" class="tk">0.0001</text>
<path d="M502.6 526.4H505" stroke="#1c1c1c" stroke-width="1.05"/>
<text transform="translate(501.5 528.37) scale(0.73 0.84)" font-size="7.3" text-anchor="end" class="tk">0.0000</text>
<path d="M515.38 526.4V529.26" stroke="#1c1c1c" stroke-width="1.05"/>
<text transform="translate(517.58 535.14) scale(0.87 0.84) rotate(-45)" font-size="7.1" text-anchor="end" class="xt">0 w</text>
<path d="M543.75 526.4V529.26" stroke="#1c1c1c" stroke-width="1.05"/>
<text transform="translate(545.95 535.14) scale(0.87 0.84) rotate(-45)" font-size="7.1" text-anchor="end" class="xt">1 w</text>
<path d="M577.8 526.4V529.26" stroke="#1c1c1c" stroke-width="1.05"/>
<text transform="translate(580 535.14) scale(0.87 0.84) rotate(-45)" font-size="7.1" text-anchor="end" class="xt">3 w</text>
<path d="M611.85 526.4V529.26" stroke="#1c1c1c" stroke-width="1.05"/>
<text transform="translate(614.05 535.14) scale(0.87 0.84) rotate(-45)" font-size="7.1" text-anchor="end" class="xt">5 w</text>
<path d="M606.17 524.7V462.7H617.52V465.6" stroke="#1c1c1c" stroke-width="1.05" fill="none"/>
<text transform="translate(611.85 461.36) scale(0.87 0.84)" font-size="10.3" text-anchor="middle" class="st">**</text>
<text transform="translate(481.1 486.3) scale(1 0.84) rotate(-90)" font-size="8.6" text-anchor="middle" class="lb">Relative mRNA level</text>
<text transform="translate(564.2 548) scale(0.840 0.84)" font-size="8.4" text-anchor="middle" class="lb">Weeks after MT implantation</text>
<text transform="translate(557 437.7) scale(0.87 0.84)" font-size="9.4" text-anchor="middle" class="ti" font-style="italic">rergl</text>
<text transform="translate(476 440.5) scale(1 0.84)" font-size="20.3" class="le">l</text>
<rect x="637.8" y="449.65" width="8.8" height="4.6" fill="#fbfaf9" stroke="#1c1c1c" stroke-width="1.05"/>
<rect x="637.8" y="458.89" width="8.8" height="4.6" fill="#1e1e1e" stroke="#1c1c1c" stroke-width="1.05"/>
<text transform="translate(651.5 454.75) scale(0.82 0.93)" font-size="8.4" class="lg">Control</text>
<text transform="translate(651.5 463.99) scale(0.82 0.93)" font-size="8.4" class="lg">MT implantation</text>
</g>
</g>
</svg>
</body>
</html>
